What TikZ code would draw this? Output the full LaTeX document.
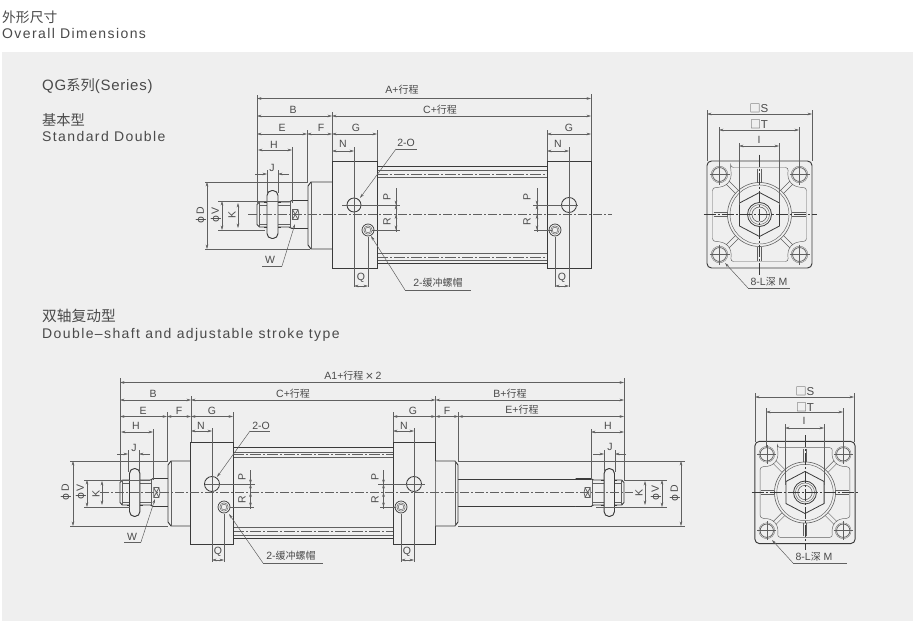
\documentclass[tikz,border=0pt]{standalone}
\usepackage{fontspec}
\setmainfont{Liberation Sans}
\newfontfamily\cjk{Noto Sans CJK SC}[Scale=0.95]
\newfontfamily\dvs{DejaVu Sans}
\newfontfamily\spaced{Liberation Sans}[LetterSpace=10]
\newfontfamily\spacedb{Liberation Sans}[LetterSpace=5]
\usetikzlibrary{arrows.meta}
\definecolor{panel}{HTML}{EFEFEF}
\definecolor{ink}{HTML}{3A3A3A}
\definecolor{thinc}{HTML}{606060}
\definecolor{txt}{HTML}{4A4A4A}
\tikzset{
 thickline/.style={draw=ink,line width=0.95pt},
 thinline/.style={draw=thinc,line width=0.45pt},
 dimline/.style={draw=thinc,line width=0.5pt,{Stealth[length=4.5pt,width=2.6pt]}-{Stealth[length=4.5pt,width=2.6pt]}},
 oneway/.style={draw=thinc,line width=0.5pt,-{Stealth[length=4.5pt,width=2.6pt]}},
 extline/.style={draw=thinc,line width=0.45pt},
 centerline/.style={draw=thinc,line width=0.55pt,dash pattern=on 9pt off 2pt on 2pt off 2pt},
 lblstyle/.style={text=txt,font=\fontsize{10.5}{11}\selectfont,inner sep=0pt},
 headstyle/.style={text=txt,anchor=west,inner sep=0pt},
}
\newcounter{lblc}
\newcommand{\lbl}[3][]{\stepcounter{lblc}\node[lblstyle,#1] (lbl\thelblc) at (#2) {#3};}
\newcommand{\hd}[3]{\stepcounter{lblc}\node[headstyle] (lbl\thelblc) at (#1) {\fontsize{#2}{#2}\selectfont #3};}
\newcommand{\xc}{{\cjk 行程}}
\newcommand{\fy}{{\dvs ϕ}}
\newcommand{\dimH}[3]{\draw[dimline] (#1,#3) -- (#2,#3);}
\newcommand{\dimV}[3]{\draw[dimline] (#1,#2) -- (#1,#3);}
\newcommand{\ex}[2]{\draw[extline] (#1) -- (#2);}
% rod end: tip at 0, centre at 0, extends towards +x
\newcommand{\rodend}{%
 \draw[thickline,fill=panel] (2.5,-12.5) -- (0,-10) -- (0,10) -- (2.5,12.5) -- (32,12.5) -- (35,14) -- (51,14);
 \draw[thickline] (2.5,-12.5) -- (32,-12.5) -- (35,-14) -- (51,-14);
 \draw[thinline] (2.5,-9.5) -- (33,-9.5) (2.5,9.5) -- (33,9.5) (2.5,-12.5) -- (2.5,12.5) (33,-12.5) -- (33,12.5);
 \draw[thickline,fill=panel,rounded corners=5pt] (10,-24) rectangle (21,24);
 \draw[thickline] (7,-12.5) -- (10,-12.5) (21,-12.5) -- (24,-12.5) (7,12.5) -- (10,12.5) (21,12.5) -- (24,12.5);
 \draw[draw=thinc,line width=0.7pt] (35.5,-5) -- (41,-5) -- (42,0) -- (41,5) -- (35.5,5) -- cycle (35.5,-5) -- (41,5) (35.5,5) -- (41,-5);
}
% end view
\newcommand{\cylface}{%
 \draw[thickline,rounded corners=4.5pt] (-52.5,-53.5) rectangle (52.5,53.5);
 \draw[thinline,rounded corners=3pt] (-29,-47) -- (29,-47) .. controls (27,-33) and (33,-27) .. (47,-27) -- (47,27) .. controls (33,27) and (27,33) .. (29,47) -- (-29,47) .. controls (-27,33) and (-33,27) .. (-47,27) -- (-47,-27) .. controls (-33,-27) and (-27,-33) .. (-29,-47) -- cycle;
 \foreach \sx/\sy in {-1/-1,1/-1,-1/1,1/1}{
  \draw[draw=thinc,line width=0.75pt] (\sx*40,\sy*40) circle (7);
  \draw[draw=thinc,line width=0.3pt] (\sx*40,\sy*40) circle (8.3);
  \draw[thinline] ({\sx*40-10},\sy*40) -- ({\sx*40+10},\sy*40) (\sx*40,{\sy*40-10}) -- (\sx*40,{\sy*40+10});
  \draw[draw=thinc,line width=0.5pt] ({\sx*32+\sx*1.5},{\sy*32-\sy*1.5}) -- ({\sx*23+\sx*1.5},{\sy*23-\sy*1.5}) ({\sx*32-\sx*1.5},{\sy*32+\sy*1.5}) -- ({\sx*23-\sx*1.5},{\sy*23+\sy*1.5});
 }
 \draw[draw=thinc,line width=0.7pt] (-1.8,-46) -- (-1.8,-32) (1.8,-46) -- (1.8,-32) (-1.8,46) -- (-1.8,32) (1.8,46) -- (1.8,32) (-46,-1.8) -- (-32,-1.8) (-46,1.8) -- (-32,1.8) (46,-1.8) -- (32,-1.8) (46,1.8) -- (32,1.8);
 \draw[draw=thinc,line width=0.6pt] (0,0) circle (32);
 \draw[thinline] (0,0) circle (29.5);
 \draw[draw=ink,line width=0.8pt] (0,-22) -- (20,-11.5) -- (20,11.5) -- (0,22) -- (-20,11.5) -- (-20,-11.5) -- cycle;
 \draw[draw=ink,line width=0.8pt] (0,0) circle (12);
 \draw[thinline] (0,0) circle (10);
 \draw[draw=thinc,line width=0.6pt] (0,0) circle (7.5);
 \draw[draw=ink,line width=0.55pt,dash pattern=on 12pt off 2pt on 2pt off 2pt] (-56,0) -- (57,0) (0,-60) -- (0,60);
}
\begin{document}
\begin{tikzpicture}[x=1pt,y=-1pt]
\useasboundingbox (0,0) rectangle (913,621);
\fill[white] (0,0) rectangle (913,621);
\fill[panel] (2,52) rectangle (913,621);
% headings
\hd{2,17}{14.5}{\cjk 外形尺寸}
\hd{2,33}{14}{\spaced Overall Dimensions}
\hd{42,86.5}{15}{\spacedb QG{\cjk 系列}(Series)}
\hd{42,120}{15}{\cjk 基本型}
\hd{42,136}{14}{\spaced Standard Double}
\hd{42,316}{15.5}{\cjk 双轴复动型}
\hd{42,334.5}{14}{\spaced Double–shaft and adjustable stroke type}

%%%%%%%%%% TOP DRAWING
\begin{scope}[shift={(257,214.5)}] \rodend \end{scope}
\draw[thickline,fill=panel] (332,182) -- (311,182) -- (308,186) -- (308,245) -- (311,249) -- (332,249);
\draw[thinline] (311,182) -- (311,249);
% tube
\draw[thickline] (377,166) -- (547,166) (377,263) -- (547,263);
\draw[thinline] (377,170) -- (547,170) (377,177) -- (547,177) (377,253) -- (547,253) (377,260) -- (547,260);
\draw[thinline,dash pattern=on 11pt off 2pt on 2pt off 2pt] (377,174) -- (547,174) (377,257) -- (547,257);
\draw[thickline,fill=panel] (332,161) rectangle (377,268);
\draw[thickline,fill=panel] (547,161) rectangle (591,268);
% ports
\draw[draw=ink,line width=0.85pt] (354,205) circle (7);
\draw[draw=ink,line width=0.85pt] (569,205) circle (7.5);
\foreach \c in {368,555}{
 \draw[draw=ink,line width=0.7pt] (\c,230) circle (6);
 \draw[thinline] (\c,230) circle (4.2) (\c,230) circle (2.8);
}
\draw[centerline] (248,214.5) -- (612,214.5);
% extension lines
\ex{257,95}{257,203} \ex{591,94}{591,161} \ex{332,112}{332,161} \ex{307,130}{307,182}
\ex{292,147}{292,203} \ex{267,170}{267,193} \ex{278,170}{278,193} \ex{377,130}{377,161}
\ex{354,147}{354,287} \ex{368,237}{368,287}
\ex{547,130}{547,161} \ex{569,147}{569,287} \ex{555,237}{555,287}
\ex{205,182}{308,182} \ex{205,249}{310,249} \ex{218,201}{290,201} \ex{218,230}{265,230}
\ex{342,205}{400,205} \ex{372,230}{400,230} \ex{396,188}{396,232}
\ex{533,205}{578,205} \ex{534,230}{552,230} \ex{537,188}{537,232}
% dimensions
\dimH{257}{591}{98.5} \dimH{257}{332}{116} \dimH{332}{591}{116}
\dimH{257}{307}{134} \dimH{307}{332}{134} \dimH{332}{377}{134}
\dimH{547}{591}{134}
\dimH{258}{292}{150} \dimH{332}{354}{151} \dimH{547}{569}{151}
\dimH{354}{368}{286} \dimH{555}{569}{286}
\draw[oneway] (255,174) -- (267,174); \draw[oneway] (289,174) -- (278,174);
\dimV{207}{182}{249} \dimV{222}{201}{230} \dimV{238}{203}{228}
\draw[oneway] (396,190) -- (396,205); \draw[oneway] (396,214.5) -- (396,205);
\dimV{396}{214.5}{230}
\draw[oneway] (537,190) -- (537,205); \draw[oneway] (537,214.5) -- (537,205);
\dimV{537}{214.5}{230}
% leaders
\draw[oneway] (396,149) -- (360,198); \draw[extline] (396,149) -- (417,149);
\draw[oneway] (405,290) -- (371,236); \draw[extline] (405,290) -- (471,290);
\draw[oneway] (282,266) -- (295,224); \draw[extline] (282,266) -- (262,266);
% labels
\lbl{402,90}{A+\xc} \lbl{293,110}{B} \lbl{440,110}{C+\xc}
\lbl{282,128}{E} \lbl{321,128}{F} \lbl{356,128}{G} \lbl{569,128}{G}
\lbl{274,145}{H} \lbl{272,168}{J} \lbl{343,144}{N} \lbl{558,144}{N}
\lbl{406,143}{2-O} \lbl{361,278}{Q} \lbl{562,278}{Q}
\lbl{438,283}{2-{\cjk 缓冲螺帽}} \lbl{270,260}{W}
\lbl[rotate=90]{201,215}{\fy\,D} \lbl[rotate=90]{216,215}{\fy\,V} \lbl[rotate=90]{232,215}{K}
\lbl[rotate=90]{387,197}{P} \lbl[rotate=90]{387,222}{R}
\lbl[rotate=90]{527,197}{P} \lbl[rotate=90]{527,222}{R}

%%%%%%%%%% TOP END VIEW
\begin{scope}[shift={(759.5,214.5)}] \cylface \end{scope}
\ex{707,110}{707,161} \ex{812,110}{812,161} \ex{719,127}{719,167} \ex{799,127}{799,167}
\ex{739,143}{739,205} \ex{779,143}{779,205}
\dimH{707}{812}{114} \dimH{719}{799}{130} \dimH{739}{779}{146}
\lbl[font=\fontsize{11.5}{12}\selectfont]{759,108}{{\cjk □}S} \lbl[font=\fontsize{11.5}{12}\selectfont]{759,124}{{\cjk □}T} \lbl{759,140}{I}
\draw[oneway] (748,288) -- (725,263); \draw[extline] (748,288) -- (790,288);
\lbl{769,282}{8-L{\cjk 深} M}

%%%%%%%%%% BOTTOM DRAWING
\begin{scope}[shift={(120,492.5)},xscale=0.95] \rodend \end{scope}
\draw[thickline,fill=panel] (190,461) -- (171,461) -- (168,465) -- (168,522) -- (171,526) -- (190,526);
\draw[thinline] (171,461) -- (171,526);
% tube
\draw[thickline] (233,447) -- (393,447) (233,538) -- (393,538);
\draw[thinline] (233,452) -- (393,452) (233,457) -- (393,457) (233,527) -- (393,527) (233,535) -- (393,535);
\draw[thinline,dash pattern=on 11pt off 2pt on 2pt off 2pt] (233,454.5) -- (393,454.5) (233,531) -- (393,531);
\draw[thickline,fill=panel] (190,442) rectangle (233,544);
\draw[thickline,fill=panel] (393,442) rectangle (435.5,544);
% right boss and rod
\draw[thickline] (458,479.5) -- (592,479.5) (458,506.5) -- (592,506.5);
\draw[thickline,fill=panel] (435.5,461) -- (455,461) -- (458,465) -- (458,522) -- (455,526) -- (435.5,526);
\draw[thinline] (455,461) -- (455,526);
\begin{scope}[shift={(624,492.5)},xscale=-0.95] \rodend \end{scope}
% ports
\draw[draw=ink,line width=0.85pt] (212,484) circle (7.5);
\draw[draw=ink,line width=0.85pt] (414,484) circle (7.5);
\foreach \c in {224,401}{
 \draw[draw=ink,line width=0.7pt] (\c,507) circle (6);
 \draw[thinline] (\c,507) circle (4.2) (\c,507) circle (2.8);
}
\draw[centerline] (100,492.5) -- (633,492.5);
% extension lines
\ex{120,378}{120,481} \ex{624,378}{624,481} \ex{191,396}{191,442} \ex{167,412}{167,461}
\ex{153,429}{153,480} \ex{128,450}{128,472} \ex{139,450}{139,472} \ex{233,412}{233,442}
\ex{212,428}{212,562} \ex{224,514}{224,562}
\ex{393,412}{393,442} \ex{435.5,396}{435.5,442} \ex{458.5,412}{458.5,461}
\ex{414,428}{414,562} \ex{401,514}{401,562}
\ex{591,429}{591,480} \ex{604,450}{604,472} \ex{615,450}{615,472}
\ex{70,461}{168,461} \ex{70,526}{168,526} \ex{84,480}{150,480} \ex{84,507}{130,507}
\ex{458,461}{685,461} \ex{458,526}{685,526} \ex{624,480}{667,480} \ex{596,507}{667,507}
\ex{205,484}{255,484} \ex{230,507}{254,507} \ex{250.5,470}{250.5,509}
\ex{378,484}{425,484} \ex{380,507}{396,507} \ex{383.5,470}{383.5,509}
% dimensions
\dimH{120}{624}{382.5} \dimH{120}{191}{400} \dimH{191}{435.5}{400} \dimH{435.5}{624}{400}
\dimH{120}{167}{416.5} \dimH{167}{191}{416.5} \dimH{191}{233}{416.5}
\dimH{393}{435.5}{416.5} \dimH{435.5}{458.5}{416.5} \dimH{458.5}{624}{416.5}
\dimH{121}{153}{432} \dimH{191}{212}{431} \dimH{393}{414}{431} \dimH{591}{624}{432}
\dimH{212}{224}{560} \dimH{401}{414}{560}
\draw[oneway] (117,454) -- (128,454); \draw[oneway] (150,454) -- (139,454);
\draw[oneway] (593,454) -- (604,454); \draw[oneway] (626,454) -- (615,454);
\dimV{73}{461}{526} \dimV{87}{480}{507} \dimV{102}{481}{505}
\dimV{681}{461}{526} \dimV{662}{480}{507} \dimV{645}{481}{505}
\draw[oneway] (250.5,472) -- (250.5,484); \draw[oneway] (250.5,492.5) -- (250.5,484);
\dimV{250.5}{492.5}{507}
\draw[oneway] (383.5,472) -- (383.5,484); \draw[oneway] (383.5,492.5) -- (383.5,484);
\dimV{383.5}{492.5}{507}
% leaders
\draw[oneway] (250,431) -- (217,477); \draw[extline] (250,431) -- (270,431);
\draw[oneway] (263,563) -- (229,514); \draw[extline] (263,563) -- (323,563);
\draw[oneway] (141,542) -- (155,499); \draw[extline] (141,542) -- (124,542);
% labels
\lbl{353,376}{A1+\xc{\dvs\,×\,}2} \lbl{153,394}{B} \lbl{293,394}{C+\xc} \lbl{510,394}{B+\xc}
\lbl{143,411}{E} \lbl{179,411}{F} \lbl{212,411}{G} \lbl{413,411}{G} \lbl{447,411}{F} \lbl{522,410}{E+\xc}
\lbl{136,426}{H} \lbl{134,448}{J} \lbl{201,426}{N} \lbl{404,426}{N} \lbl{608,426}{H} \lbl{610,447}{J}
\lbl{261,426}{2-O} \lbl{218,552}{Q} \lbl{407,552}{Q}
\lbl{291,556}{2-{\cjk 缓冲螺帽}} \lbl{132,537}{W}
\lbl[rotate=90]{66,492}{\fy\,D} \lbl[rotate=90]{81,492}{\fy\,V} \lbl[rotate=90]{96,494}{K}
\lbl[rotate=90]{639,493}{K} \lbl[rotate=90]{656,493}{\fy\,V} \lbl[rotate=90]{675,493}{\fy\,D}
\lbl[rotate=90]{242,477}{P} \lbl[rotate=90]{242,500}{R}
\lbl[rotate=90]{375,477}{P} \lbl[rotate=90]{375,500}{R}

%%%%%%%%%% BOTTOM END VIEW
\begin{scope}[shift={(805,492.5)},scale=0.955] \cylface \end{scope}
\ex{755,393}{755,442} \ex{854,393}{854,442} \ex{766,408}{766,447} \ex{843,408}{843,447}
\ex{785,424}{785,485} \ex{824,424}{824,485}
\dimH{755}{854}{397} \dimH{766}{843}{412} \dimH{785}{824}{428}
\lbl[font=\fontsize{11.5}{12}\selectfont]{805,391}{{\cjk □}S} \lbl[font=\fontsize{11.5}{12}\selectfont]{805,407}{{\cjk □}T} \lbl{804,421}{I}
\draw[oneway] (793,563) -- (772,540); \draw[extline] (793,563) -- (847,563);
\lbl{814,557}{8-L{\cjk 深} M}
\end{tikzpicture}
\end{document}
